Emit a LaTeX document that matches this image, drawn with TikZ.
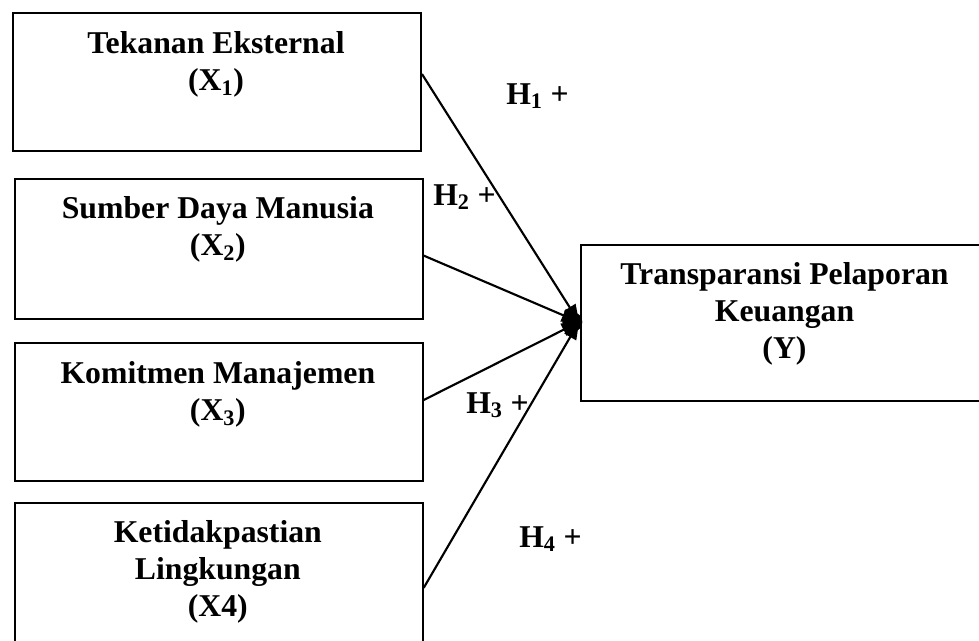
\documentclass[tikz,border=0pt]{standalone}
\usepackage{fontspec}
\setmainfont{Liberation Serif}
\usetikzlibrary{arrows.meta}
\newcommand\boxtxt[1]{\begin{tabular}[t]{@{}c@{}}#1\end{tabular}}
\begin{document}
\begin{tikzpicture}[x=0.75pt,y=-0.75pt,
  box/.style={draw, line width=1.5pt, rectangle, inner sep=0pt, anchor=north west},
  txt/.style={font=\bfseries\fontsize{23.8}{28.1}\selectfont, inner sep=0pt, anchor=base},
  hyp/.style={font=\bfseries\fontsize{23.8}{28.1}\selectfont, inner sep=0pt, anchor=base west},
  link/.style={line width=1.6pt, -{Triangle[length=13pt,width=10pt]}}]
\useasboundingbox (0,0) rectangle (979,640);
% boxes
\node[box, minimum width=306.2pt, minimum height=103.3pt] (x1) at (11.7,12.3) {};
\node[box, minimum width=305.8pt, minimum height=105pt] (x2) at (14,178) {};
\node[box, minimum width=305.8pt, minimum height=103.7pt] (x3) at (14,341.7) {};
\node[box, minimum width=305.8pt, minimum height=105pt] (x4) at (14,502) {};
\node[box, minimum width=306.75pt, minimum height=117pt] (y) at (580,244) {};
% box texts
\node[txt] (t1) at (216,53) {\boxtxt{Tekanan Eksternal\\(X\textsubscript{1})}};
\node[txt] (t2) at (217.85,218) {\boxtxt{Sumber Daya Manusia\\(X\textsubscript{2})}};
\node[txt] (t3) at (217.85,383) {\boxtxt{Komitmen Manajemen\\(X\textsubscript{3})}};
\node[txt] (t4) at (217.85,542) {\boxtxt{Ketidakpastian\\Lingkungan\\(X4)}};
\node[txt] (ty) at (784.5,284) {\boxtxt{Transparansi Pelaporan\\Keuangan\\(Y)}};
% connector ends
\coordinate (s1) at ([yshift=6.1pt]x1.east);
\coordinate (s2) at ([yshift=-4.95pt]x2.east);
\coordinate (s3) at ([yshift=8.9pt]x3.east);
\coordinate (s4) at ([yshift=-11.1pt]x4.east);
\coordinate (c) at ([xshift=-0.75pt,yshift=0.75pt]y.west);
\draw[link] (s1) -- (c);
\draw[link] (s2) -- (c);
\draw[link] (s3) -- (c);
\draw[link] (s4) -- (c);
\fill ([xshift=-5pt]c) circle[radius=7.5pt];
% hypothesis labels
\node[hyp] (h1) at (506,104) {H\textsubscript{1} +};
\node[hyp] (h2) at (433,205) {H\textsubscript{2} +};
\node[hyp] (h3) at (466,413) {H\textsubscript{3} +};
\node[hyp] (h4) at (519,547) {H\textsubscript{4} +};
\end{tikzpicture}
\end{document}
